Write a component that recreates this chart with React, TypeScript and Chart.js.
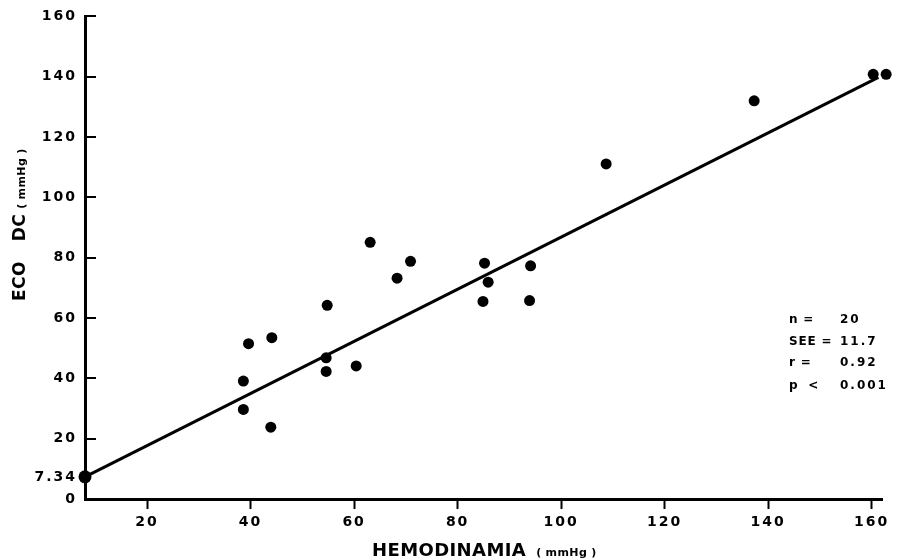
import { useEffect, useRef } from "react";
import { Chart, registerables } from "chart.js";

Chart.register(...registerables);

// Data
const hemodinamia = [160.3, 162.8, 137.3, 108.7, 63.1, 70.9, 68.3, 85.2, 85.9, 84.9, 94.1, 93.9, 54.8, 54.6, 54.6, 60.4, 39.6, 44.1, 38.6, 38.6, 43.9];
const ecoDC = [140.8, 140.8, 132.0, 111.1, 85.1, 78.8, 73.2, 78.2, 71.9, 65.5, 77.3, 65.8, 64.2, 46.8, 42.3, 44.1, 51.5, 53.5, 39.1, 29.7, 23.8];
const regressionX = [8, 161.3];
const regressionY = [7.34, 139.8];
const intercept = 7.34;
const xTicks = [20, 40, 60, 80, 100, 120, 140, 160];
const yTicks = [0, 7.34, 20, 40, 60, 80, 100, 120, 140, 160];
const statLabels = ["n =", "SEE =", "r =", "p  <"];
const statValues = ["20", "11.7", "0.92", "0.001"];
const xTitle = "HEMODINAMIA";
const yTitle = ["ECO", "DC"];
const unitText = "mmHg";

const FONT = "'DejaVu Sans', 'Liberation Sans', sans-serif";

type Seg = { t: string; size: number; gap?: number };

function drawSegs(ctx: CanvasRenderingContext2D, segs: Seg[]) {
  let cx = 0;
  for (const s of segs) {
    cx += s.gap || 0;
    ctx.font = `bold ${s.size}px ${FONT}`;
    ctx.fillText(s.t, cx, 0);
    cx += ctx.measureText(s.t).width;
  }
}

const decorPlugin = {
  id: "decor",
  beforeDraw(chart: any) {
    (chart.ctx as any).letterSpacing = "2px";
  },
  afterDraw(chart: any) {
    const ctx: CanvasRenderingContext2D = chart.ctx;
    const y = chart.scales.y;
    const area = chart.chartArea;
    ctx.save();
    // inner tick marks on the y axis
    ctx.strokeStyle = "#000";
    ctx.lineWidth = 2;
    for (const v of yTicks) {
      if (v === intercept || v === 0) continue;
      const py = Math.round(y.getPixelForValue(v));
      ctx.beginPath();
      ctx.moveTo(area.left, py);
      ctx.lineTo(area.left + 11, py);
      ctx.stroke();
    }
    ctx.fillStyle = "#000";
    ctx.textBaseline = "alphabetic";
    ctx.textAlign = "left";
    (ctx as any).letterSpacing = "0.4px";
    // x title
    ctx.save();
    ctx.translate(372, 556);
    drawSegs(ctx, [
      { t: xTitle, size: 18 },
      { t: "(", size: 11, gap: 10 },
      { t: unitText, size: 11, gap: 4 },
      { t: ")", size: 11, gap: 4 },
    ]);
    ctx.restore();
    // y title
    ctx.save();
    ctx.translate(25, 301);
    ctx.rotate(-Math.PI / 2);
    drawSegs(ctx, [
      { t: yTitle[0], size: 17 },
      { t: yTitle[1], size: 17, gap: 20 },
      { t: "(", size: 11, gap: 5 },
      { t: unitText, size: 11, gap: 4 },
      { t: ")", size: 11, gap: 4 },
    ]);
    ctx.restore();
    // statistics
    ctx.font = `bold 12px ${FONT}`;
    const baselines = [323, 345, 366, 389];
    statLabels.forEach((l, i) => {
      (ctx as any).letterSpacing = "0.8px";
      ctx.fillText(l, 789, baselines[i]);
      (ctx as any).letterSpacing = "2px";
      ctx.fillText(statValues[i], 840, baselines[i]);
    });
    ctx.restore();
    (ctx as any).letterSpacing = "0px";
  },
};

export default function App() {
  const ref = useRef<HTMLCanvasElement | null>(null);
  useEffect(() => {
    if (!ref.current) return;
    const chart = new Chart(ref.current, {
      type: "scatter",
      data: {
        datasets: [
          {
            label: "regression",
            data: regressionX.map((x, i) => ({ x, y: regressionY[i] })),
            showLine: true,
            borderColor: "#000",
            borderWidth: 3,
            pointRadius: 0,
            clip: false,
          } as any,
          {
            label: "intercept",
            data: [{ x: regressionX[0], y: intercept }],
            pointRadius: 6.5,
            backgroundColor: "#000",
            borderWidth: 0,
            clip: false,
          } as any,
          {
            label: "points",
            data: hemodinamia.map((x, i) => ({ x, y: ecoDC[i] })),
            pointRadius: 5.5,
            backgroundColor: "#000",
            borderWidth: 0,
            clip: false,
          } as any,
        ],
      },
      options: {
        responsive: false,
        animation: false,
        devicePixelRatio: 1,
        layout: { padding: { top: 16, right: 17, bottom: 0, left: 0 } },
        plugins: {
          legend: { display: false },
          tooltip: { enabled: false },
        },
        scales: {
          x: {
            type: "linear",
            min: 8,
            max: 162,
            afterBuildTicks: (s: any) => {
              s.ticks = xTicks.map((v) => ({ value: v }));
            },
            afterFit: (s: any) => {
              s.height = 61;
            },
            grid: {
              display: true,
              drawOnChartArea: false,
              drawTicks: true,
              tickLength: 10,
              tickWidth: 2,
              tickColor: "#000",
            },
            border: { display: true, color: "#000", width: 3 },
            ticks: {
              color: "#000",
              font: { family: FONT, size: 14, weight: "bold" },
              padding: 5,
              maxRotation: 0,
              autoSkip: false,
            },
          },
          y: {
            type: "linear",
            min: 0,
            max: 160,
            afterBuildTicks: (s: any) => {
              s.ticks = yTicks.map((v) => ({ value: v }));
            },
            afterFit: (s: any) => {
              s.width = 85;
            },
            grid: { display: false, drawTicks: false },
            border: { display: true, color: "#000", width: 3 },
            ticks: {
              color: "#000",
              font: { family: FONT, size: 14, weight: "bold" },
              padding: 8,
              autoSkip: false,
              callback: (v: any) => (v === intercept ? "7.34" : String(v)),
            },
          },
        },
      } as any,
      plugins: [decorPlugin],
    });
    return () => chart.destroy();
  }, []);
  return (
    <div style={{ position: "absolute", left: 0, top: 0, width: 899, height: 560, background: "#fff" }}>
      <canvas ref={ref} width={899} height={560} style={{ width: 899, height: 560, display: "block" }} />
    </div>
  );
}
